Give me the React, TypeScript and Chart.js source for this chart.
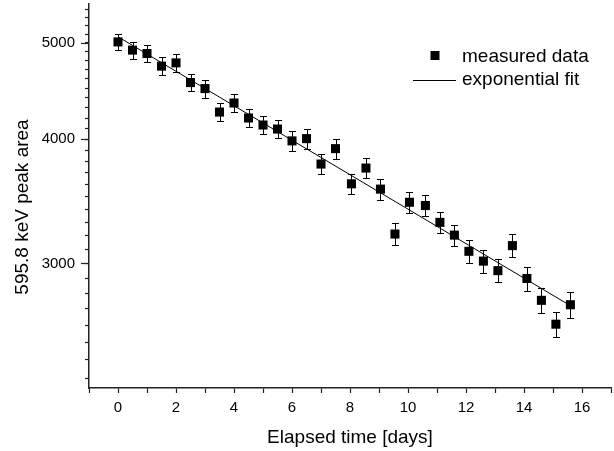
import React, { useEffect, useRef } from "react";
import { Chart, registerables } from "chart.js";

Chart.register(...registerables);

// ---- data ----
const timeDays = [
  0, 0.5, 1.0, 1.5, 2.0, 2.5, 3.0, 3.5, 4.0, 4.5, 5.0, 5.5, 6.0, 6.5, 7.0, 7.5,
  8.05, 8.55, 9.05, 9.55, 10.05, 10.6, 11.1, 11.6, 12.1, 12.6, 13.1, 13.6, 14.1, 14.6, 15.1, 15.6,
];
const peakArea = [
  5010, 4916, 4877, 4737, 4773, 4560, 4497, 4259, 4349, 4201, 4133, 4095, 3984, 4005, 3776, 3913,
  3607, 3741, 3563, 3211, 3456, 3430, 3299, 3203, 3085, 3016, 2950, 3126, 2897, 2754, 2606, 2726,
];
const peakError = [
  97, 95, 96, 96, 96, 93, 94, 89, 91, 90, 88, 88, 88, 91, 86, 89,
  86, 87, 87, 81, 83, 84, 84, 78, 82, 79, 79, 83, 81, 77, 75, 82,
];
const fitTime = [0, 15.6];
const fitArea = [5070, 2720];

const xTickValues = [-1, 0, 1, 2, 3, 4, 5, 6, 7, 8, 9, 10, 11, 12, 13, 14, 15, 16, 17];
const xTickLabels = ["0", "2", "4", "6", "8", "10", "12", "14", "16"];
const yMajorTicks = [3000, 4000, 5000];
const yMinorTicks = [
  2300, 2400, 2500, 2600, 2700, 2800, 2900, 3100, 3200, 3300, 3400, 3500, 3600, 3700, 3800, 3900,
  4100, 4200, 4300, 4400, 4500, 4600, 4700, 4800, 4900, 5100, 5200, 5300, 5400,
];

const X_TITLE = "Elapsed time [days]";
const Y_TITLE = "595.8 keV peak area";
const LEGEND_LABELS = ["measured data", "exponential fit"];

const FONT_FAMILY = '"Liberation Sans", Arial, sans-serif';

const errorBarPlugin = {
  id: "errorBars",
  beforeDatasetsDraw(chart: any) {
    const { ctx, scales } = chart;
    const x = scales.x;
    const y = scales.y;
    ctx.save();
    ctx.strokeStyle = "#000";
    ctx.lineWidth = 1;
    const cap = 3.5;
    timeDays.forEach((t, i) => {
      const px = Math.round(x.getPixelForValue(t)) + 0.5;
      const top = Math.round(y.getPixelForValue(peakArea[i] + peakError[i])) + 0.5;
      const bot = Math.round(y.getPixelForValue(peakArea[i] - peakError[i])) + 0.5;
      ctx.beginPath();
      ctx.moveTo(px, top);
      ctx.lineTo(px, bot);
      ctx.moveTo(px - cap, top);
      ctx.lineTo(px + cap, top);
      ctx.moveTo(px - cap, bot);
      ctx.lineTo(px + cap, bot);
      ctx.stroke();
    });
    ctx.restore();
  },
};

const majorTickPlugin = {
  id: "majorTicks",
  afterDraw(chart: any) {
    const { ctx, scales, chartArea } = chart;
    const y = scales.y;
    ctx.save();
    ctx.strokeStyle = "#222";
    ctx.lineWidth = 1.2;
    yMajorTicks.forEach((v) => {
      const py = Math.round(y.getPixelForValue(v)) + 0.5;
      ctx.beginPath();
      ctx.moveTo(chartArea.left - 8, py);
      ctx.lineTo(chartArea.left, py);
      ctx.stroke();
    });
    // y axis title
    ctx.fillStyle = "#000";
    ctx.font = `19px ${FONT_FAMILY}`;
    ctx.textAlign = "center";
    ctx.textBaseline = "middle";
    ctx.translate(23, (chartArea.top + chartArea.bottom) / 2 + 11);
    ctx.rotate(-Math.PI / 2);
    ctx.fillText(Y_TITLE, 0, 0);
    ctx.restore();
  },
};

const legendPlugin = {
  id: "customLegend",
  afterDraw(chart: any) {
    const { ctx, chartArea } = chart;
    const r = chartArea.right;
    const t = chartArea.top;
    ctx.save();
    ctx.font = `19px ${FONT_FAMILY}`;
    ctx.fillStyle = "#000";
    ctx.textAlign = "left";
    ctx.textBaseline = "middle";
    // measured data
    ctx.fillRect(r - 180.5, t + 47, 9, 9);
    ctx.fillText(LEGEND_LABELS[0], r - 149, t + 53);
    // exponential fit
    ctx.strokeStyle = "#000";
    ctx.lineWidth = 1;
    ctx.beginPath();
    ctx.moveTo(r - 198, t + 76.5);
    ctx.lineTo(r - 155, t + 76.5);
    ctx.stroke();
    ctx.fillText(LEGEND_LABELS[1], r - 149, t + 76);
    ctx.restore();
  },
};

export default function App() {
  const canvasRef = useRef<HTMLCanvasElement | null>(null);

  useEffect(() => {
    const canvas = canvasRef.current;
    if (!canvas) return;
    const chart = new Chart(canvas, {
      type: "scatter",
      data: {
        datasets: [
          {
            label: LEGEND_LABELS[0],
            data: timeDays.map((t, i) => ({ x: t, y: peakArea[i] })),
            pointStyle: "rect",
            pointRadius: 6.4,
            pointHoverRadius: 6.4,
            backgroundColor: "#000",
            borderColor: "#000",
            borderWidth: 0,
            showLine: false,
            order: 1,
          },
          {
            label: LEGEND_LABELS[1],
            data: fitTime.map((t, i) => ({ x: t, y: fitArea[i] })),
            showLine: true,
            borderColor: "#000",
            borderWidth: 1,
            pointRadius: 0,
            fill: false,
            order: 2,
          },
        ],
      },
      options: {
        responsive: false,
        animation: false,
        events: [],
        layout: { autoPadding: false, padding: { top: 4, right: 3, left: 0, bottom: 0 } },
        plugins: {
          legend: { display: false },
          tooltip: { enabled: false },
        },
        scales: {
          x: {
            type: "linear",
            min: -1,
            max: 17,
            afterFit: (scale: any) => {
              scale.height = 63;
              scale.paddingLeft = 0;
              scale.paddingRight = 0;
            },
            afterBuildTicks: (scale: any) => {
              scale.ticks = xTickValues.map((v) => ({ value: v }));
            },
            ticks: {
              autoSkip: false,
              maxRotation: 0,
              padding: 6,
              color: "#000",
              font: { family: FONT_FAMILY, size: 15 },
              callback: (value: any) => {
                const s = String(value);
                return xTickLabels.includes(s) ? s : "";
              },
            },
            grid: {
              display: true,
              drawOnChartArea: false,
              drawTicks: true,
              tickLength: 5,
              tickColor: "#222",
              tickWidth: 1.2,
            },
            border: { display: true, color: "#222", width: 1.5 },
            title: {
              display: true,
              text: X_TITLE,
              color: "#000",
              font: { family: FONT_FAMILY, size: 19 },
              padding: { top: 0, bottom: 2 },
            },
          },
          y: {
            type: "logarithmic",
            min: 2248,
            max: 5470,
            afterFit: (scale: any) => {
              scale.width = 89;
              scale.paddingTop = 0;
              scale.paddingBottom = 0;
            },
            afterBuildTicks: (scale: any) => {
              const vals = [...yMinorTicks, ...yMajorTicks].sort((a, b) => a - b);
              scale.ticks = vals.map((v) => ({ value: v, major: yMajorTicks.includes(v) }));
            },
            ticks: {
              autoSkip: false,
              padding: 10,
              color: "#000",
              font: { family: FONT_FAMILY, size: 15 },
              callback: (value: any) => (yMajorTicks.includes(Number(value)) ? String(value) : ""),
            },
            grid: {
              display: true,
              drawOnChartArea: false,
              drawTicks: true,
              tickLength: 4,
              tickColor: "#222",
              tickWidth: 1.2,
            },
            border: { display: true, color: "#222", width: 1.5 },
            title: { display: false },
          },
        },
      },
      plugins: [errorBarPlugin, majorTickPlugin, legendPlugin],
    });
    return () => chart.destroy();
  }, []);

  return (
    <div style={{ position: "absolute", left: 0, top: 0, width: 614, height: 451, background: "#fff" }}>
      <canvas ref={canvasRef} width={614} height={451} style={{ display: "block" }} />
    </div>
  );
}
